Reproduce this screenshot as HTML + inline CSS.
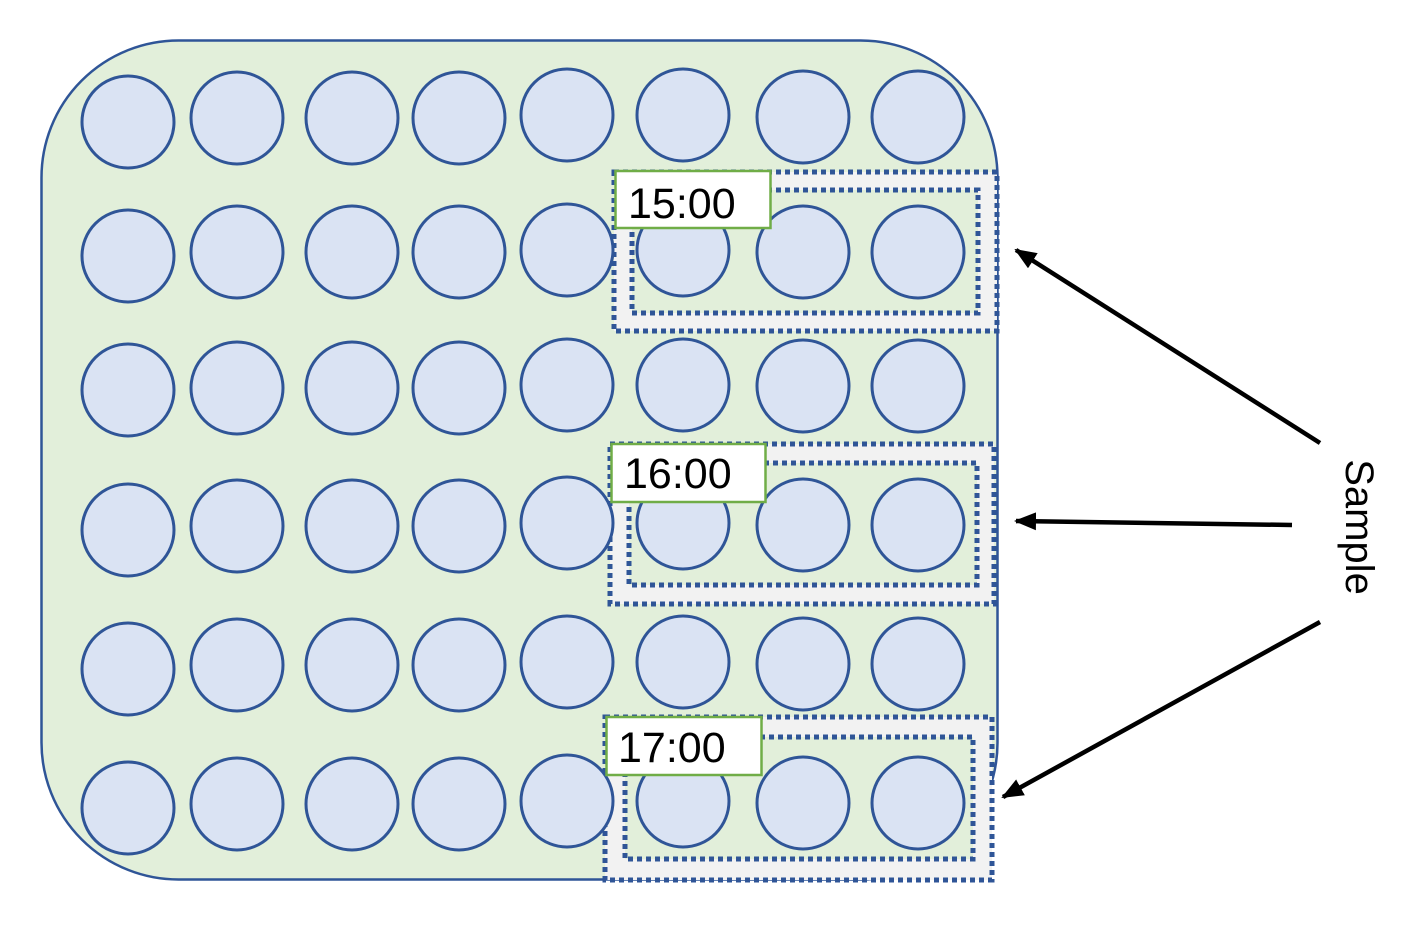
<!DOCTYPE html>
<html><head><meta charset="utf-8"><style>html,body{margin:0;padding:0;background:#fff;}svg{display:block}</style></head>
<body>
<svg width="1407" height="933" viewBox="0 0 1407 933" xmlns="http://www.w3.org/2000/svg">
<defs>
<marker id="ah" markerWidth="22" markerHeight="18" refX="20" refY="9" orient="auto" markerUnits="userSpaceOnUse" viewBox="0 0 22 18">
<path d="M0,0 L22,9 L0,18 z" fill="#000"/>
</marker>
</defs>
<rect x="41.5" y="40.5" width="956" height="839" rx="137" ry="137" fill="#e2efda" stroke="#2f5597" stroke-width="2.5"/>
<g stroke="#2f5597" stroke-width="5" stroke-dasharray="5,4">
<rect x="614" y="172" width="383" height="159" fill="#f2f2f2"/>
<rect x="632" y="190" width="346" height="123" fill="#e2efda"/>
<rect x="610" y="444" width="384" height="160" fill="#f2f2f2"/>
<rect x="629" y="463" width="348" height="122" fill="#e2efda"/>
<rect x="605" y="717" width="387" height="163" fill="#f2f2f2"/>
<rect x="625" y="737" width="348" height="122" fill="#e2efda"/>
</g>
<g fill="#dae3f3" stroke="#2f5597" stroke-width="3">
<circle cx="128" cy="122" r="46"/><circle cx="237" cy="118" r="46"/><circle cx="352" cy="118" r="46"/><circle cx="459" cy="118" r="46"/><circle cx="567" cy="115" r="46"/><circle cx="683" cy="115" r="46"/><circle cx="803" cy="117" r="46"/><circle cx="918" cy="117" r="46"/>
<circle cx="128" cy="256" r="46"/><circle cx="237" cy="252" r="46"/><circle cx="352" cy="252" r="46"/><circle cx="459" cy="252" r="46"/><circle cx="567" cy="250" r="46"/><circle cx="683" cy="250" r="46"/><circle cx="803" cy="252" r="46"/><circle cx="918" cy="252" r="46"/>
<circle cx="128" cy="390" r="46"/><circle cx="237" cy="388" r="46"/><circle cx="352" cy="388" r="46"/><circle cx="459" cy="388" r="46"/><circle cx="567" cy="385" r="46"/><circle cx="683" cy="385" r="46"/><circle cx="803" cy="386" r="46"/><circle cx="918" cy="386" r="46"/>
<circle cx="128" cy="530" r="46"/><circle cx="237" cy="526" r="46"/><circle cx="352" cy="526" r="46"/><circle cx="459" cy="526" r="46"/><circle cx="567" cy="523" r="46"/><circle cx="683" cy="523" r="46"/><circle cx="803" cy="525" r="46"/><circle cx="918" cy="525" r="46"/>
<circle cx="128" cy="669" r="46"/><circle cx="237" cy="665" r="46"/><circle cx="352" cy="665" r="46"/><circle cx="459" cy="665" r="46"/><circle cx="567" cy="662" r="46"/><circle cx="683" cy="662" r="46"/><circle cx="803" cy="664" r="46"/><circle cx="918" cy="664" r="46"/>
<circle cx="128" cy="808" r="46"/><circle cx="237" cy="804" r="46"/><circle cx="352" cy="804" r="46"/><circle cx="459" cy="804" r="46"/><circle cx="567" cy="801" r="46"/><circle cx="683" cy="801" r="46"/><circle cx="803" cy="803" r="46"/><circle cx="918" cy="803" r="46"/>
</g>
<g fill="#fff" stroke="#70ad47" stroke-width="2.5">
<rect x="615.5" y="171" width="155" height="57"/>
<rect x="611.5" y="444" width="154" height="58"/>
<rect x="606.5" y="717" width="155" height="58"/>
</g>
<g font-family="Liberation Sans, sans-serif" font-size="43" fill="#000">
<text x="628" y="218">15:00</text>
<text x="624" y="488">16:00</text>
<text x="618" y="762">17:00</text>
</g>
<g stroke="#000" stroke-width="4.5" fill="none" marker-end="url(#ah)">
<line x1="1320" y1="443" x2="1016" y2="250"/>
<line x1="1292" y1="525" x2="1016" y2="521"/>
<line x1="1320" y1="622" x2="1003" y2="797"/>
</g>
<text transform="translate(1346,527) rotate(90)" text-anchor="middle" font-family="Liberation Sans, sans-serif" font-size="40" fill="#000">Sample</text>
</svg>
</body></html>
